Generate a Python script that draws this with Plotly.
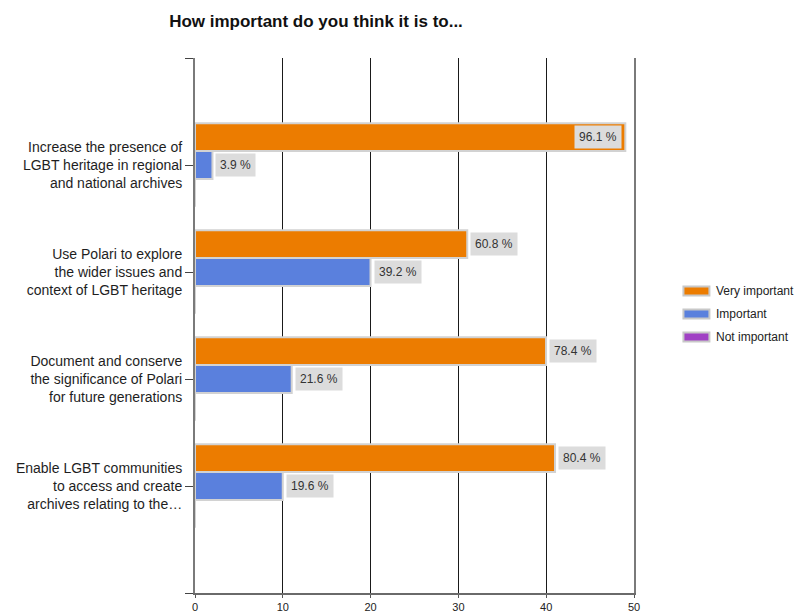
import plotly.graph_objects as go

# Survey: "How important do you think it is to..."
categories = [
    "Increase the presence of<br>LGBT heritage in regional<br>and national archives",
    "Use Polari to explore<br>the wider issues and<br>context of LGBT heritage",
    "Document and conserve<br>the significance of Polari<br>for future generations",
    "Enable LGBT communities<br>to access and create<br>archives relating to the…",
]
series_names = ["Very important", "Important", "Not important"]
very_important_pct = [96.1, 60.8, 78.4, 80.4]
important_pct = [3.9, 39.2, 21.6, 19.6]
not_important_pct = [0.0, 0.0, 0.0, 0.0]
respondents = 51
x_ticks = [0, 10, 20, 30, 40, 50]

series_pct = [very_important_pct, important_pct, not_important_pct]
colors = ["#ec7c00", "#5a80dd", "#a041c4"]

W, H = 797, 615
L, R, T, B = 195, 162.5, 58, 22
PW, PH = W - L - R, H - T - B
FONT = "Liberation Sans, Arial, sans-serif"

ypos = list(range(len(categories)))
bargap = 0.22
bar_w = (1 - bargap) / len(series_names)

fig = go.Figure()
for name, pct, col in zip(series_names, series_pct, colors):
    counts = [p * respondents / 100 for p in pct]
    fig.add_trace(go.Bar(
        y=ypos, x=counts, name=name, orientation="h",
        marker=dict(color=col, line=dict(color="#d2d2d2", width=2)),
        showlegend=False, hoverinfo="skip",
    ))

# Percentage labels in grey boxes beside the bar ends
annotations = []
for s, pct in enumerate(series_pct[:2]):
    for i, p in enumerate(pct):
        count = p * respondents / 100
        yc = i + (s - 1) * bar_w
        fits = (50 - count) * PW / 50 > 50
        annotations.append(dict(
            x=count, y=yc, xref="x", yref="y",
            text=f"{p} %", showarrow=False,
            xanchor="left" if fits else "right",
            xshift=3 if fits else -3,
            bgcolor="#dcdcdc", borderpad=4,
            font=dict(family=FONT, size=12, color="#333333"),
        ))

def px_x(px):
    return (px - L) / PW

def px_y(py):
    return (H - B - py) / PH

# Legend drawn as wide flat swatches
shapes = []
for k, (name, col) in enumerate(zip(series_names, colors)):
    cy = 291 + k * 23
    shapes.append(dict(
        type="rect", xref="paper", yref="paper",
        x0=px_x(684), x1=px_x(710), y0=px_y(cy + 4.5), y1=px_y(cy - 4.5),
        fillcolor=col, line=dict(color="#c8c8c8", width=2),
    ))
    annotations.append(dict(
        x=px_x(715), y=px_y(cy), xref="paper", yref="paper",
        text=name, showarrow=False, xanchor="left", yanchor="middle",
        font=dict(family=FONT, size=12, color="#222222"),
    ))

fig.update_layout(
    width=W, height=H,
    margin=dict(l=L, r=R, t=T, b=B, pad=0, autoexpand=False),
    paper_bgcolor="white", plot_bgcolor="white",
    barmode="group", bargap=bargap, bargroupgap=0,
    title=dict(
        text="<b>How important do you think it is to...</b>",
        x=316 / W, xanchor="center", xref="container",
        y=1 - 21 / H, yanchor="middle", automargin=False,
        font=dict(family=FONT, size=17, color="#111111"),
    ),
    xaxis=dict(
        range=[0, 50], tickvals=x_ticks, ticks="outside", ticklen=3,
        tickcolor="#555555", showline=True, linecolor="#6a6a6a", linewidth=2,
        showgrid=True, gridcolor="#1a1a1a", gridwidth=1, zeroline=False,
        tickfont=dict(family=FONT, size=11, color="#222222"),
        ticklabelstandoff=0,
        automargin=False, fixedrange=True,
    ),
    yaxis=dict(
        range=[4, -1], tickvals=[-1] + ypos + [4],
        ticktext=[""] + categories + [""],
        ticks="outside", ticklen=8, tickcolor="#444444",
        showline=True, linecolor="#7a7a7a", linewidth=2, mirror=True,
        showgrid=False, zeroline=False,
        tickfont=dict(family=FONT, size=14, color="#1e1e1e"),
        automargin=False, fixedrange=True,
    ),
    shapes=shapes,
    annotations=annotations,
)

fig.write_html("out.html")
